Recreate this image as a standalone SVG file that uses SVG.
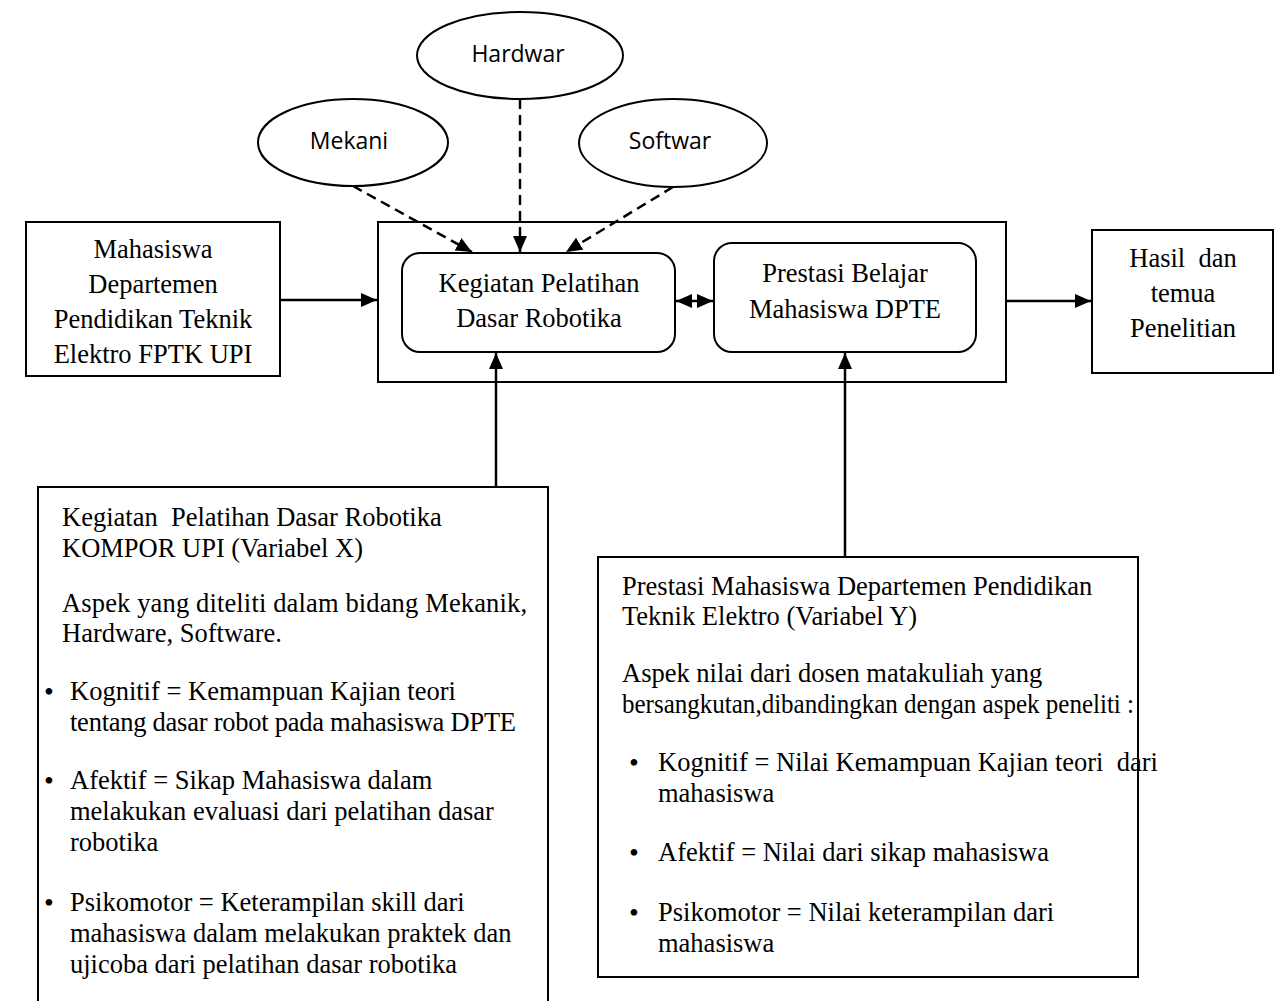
<svg xmlns="http://www.w3.org/2000/svg" width="1275" height="1001" viewBox="0 0 1275 1001">
<defs>
<marker id="ah" viewBox="0 0 16 14" refX="16" refY="7" markerWidth="16" markerHeight="14" markerUnits="userSpaceOnUse" orient="auto-start-reverse">
<path d="M0,0 L16,7 L0,14 Z" fill="#000"/>
</marker>
<style>
.box{fill:#fff;stroke:#000;stroke-width:2}
.ell{fill:#fff;stroke:#000;stroke-width:2}
.t{font-family:"Liberation Serif","Times New Roman",serif;font-size:26.5px;fill:#000}
.c{text-anchor:middle}
.b{font-size:28px}
.s{font-family:"Open Sans","Liberation Sans",sans-serif;font-size:23px;fill:#000;text-anchor:middle}
.ln{stroke:#000;stroke-width:2.5;fill:none}
.dash{stroke:#000;stroke-width:2.5;fill:none;stroke-dasharray:10 6}
</style>
</defs>
<rect width="1275" height="1001" fill="#fff"/>

<g id="frame"><rect class="box" x="378" y="222" width="628" height="160"/></g>

<g id="hardwar"><ellipse class="ell" cx="520" cy="55.5" rx="103" ry="43.5"/><text class="s" x="518" y="62">Hardwar</text></g>
<g id="mekani"><ellipse class="ell" cx="353" cy="142.5" rx="95" ry="43.5"/><text class="s" x="349" y="149">Mekani</text></g>
<g id="softwar"><ellipse class="ell" cx="673" cy="143" rx="94" ry="44"/><text class="s" x="670" y="149">Softwar</text></g>

<g id="mahasiswa"><rect class="box" x="26" y="222" width="254" height="154"/>
<text class="t c" x="153" y="258">Mahasiswa</text>
<text class="t c" x="153" y="293">Departemen</text>
<text class="t c" x="153" y="328">Pendidikan Teknik</text>
<text class="t c" x="153" y="363">Elektro FPTK UPI</text></g>

<g id="kegiatan"><rect class="box" x="402" y="253" width="273" height="99" rx="18"/>
<text class="t c" x="539" y="292">Kegiatan Pelatihan</text>
<text class="t c" x="539" y="327">Dasar Robotika</text></g>

<g id="prestasi"><rect class="box" x="714" y="243" width="262" height="109" rx="18"/>
<text class="t c" x="845" y="282">Prestasi Belajar</text>
<text class="t c" x="845" y="318">Mahasiswa DPTE</text></g>

<g id="hasil"><rect class="box" x="1092" y="230" width="181" height="143"/>
<text class="t c" x="1183" y="267" xml:space="preserve">Hasil  dan</text>
<text class="t c" x="1183" y="302">temua</text>
<text class="t c" x="1183" y="337">Penelitian</text></g>

<g id="varx"><rect class="box" x="38" y="487" width="510" height="530"/>
<text class="t" x="62" y="526" xml:space="preserve">Kegiatan  Pelatihan Dasar Robotika</text>
<text class="t" x="62" y="557">KOMPOR UPI (Variabel X)</text>
<text class="t" x="62" y="612" textLength="465" lengthAdjust="spacing">Aspek yang diteliti dalam bidang Mekanik,</text>
<text class="t" x="62" y="642">Hardware, Software.</text>
<text class="t b" x="44" y="701">•</text>
<text class="t" x="70" y="700">Kognitif = Kemampuan Kajian teori</text>
<text class="t" x="70" y="731" textLength="446" lengthAdjust="spacing">tentang dasar robot pada mahasiswa DPTE</text>
<text class="t b" x="44" y="790">•</text>
<text class="t" x="70" y="789">Afektif = Sikap Mahasiswa dalam</text>
<text class="t" x="70" y="820">melakukan evaluasi dari pelatihan dasar</text>
<text class="t" x="70" y="851">robotika</text>
<text class="t b" x="44" y="912">•</text>
<text class="t" x="70" y="911">Psikomotor = Keterampilan skill dari</text>
<text class="t" x="70" y="942">mahasiswa dalam melakukan praktek dan</text>
<text class="t" x="70" y="973">ujicoba dari pelatihan dasar robotika</text></g>

<g id="vary"><rect class="box" x="598" y="557" width="540" height="420"/>
<text class="t" x="622" y="595">Prestasi Mahasiswa Departemen Pendidikan</text>
<text class="t" x="622" y="625">Teknik Elektro (Variabel Y)</text>
<text class="t" x="622" y="682">Aspek nilai dari dosen matakuliah yang</text>
<text class="t" x="622" y="713" textLength="512" lengthAdjust="spacingAndGlyphs">bersangkutan,dibandingkan dengan aspek peneliti :</text>
<text class="t b" x="629" y="772">•</text>
<text class="t" x="658" y="771" xml:space="preserve">Kognitif = Nilai Kemampuan Kajian teori  dari</text>
<text class="t" x="658" y="802">mahasiswa</text>
<text class="t b" x="629" y="862">•</text>
<text class="t" x="658" y="861">Afektif = Nilai dari sikap mahasiswa</text>
<text class="t b" x="629" y="922">•</text>
<text class="t" x="658" y="921">Psikomotor = Nilai keterampilan dari</text>
<text class="t" x="658" y="952">mahasiswa</text></g>

<g id="connectors">
<line class="dash" x1="353" y1="186" x2="472" y2="252" marker-end="url(#ah)"/>
<line class="dash" x1="520" y1="99" x2="520" y2="252" marker-end="url(#ah)"/>
<line class="dash" x1="673" y1="187" x2="566" y2="252" marker-end="url(#ah)"/>
<line class="ln" x1="280" y1="300" x2="377" y2="300" marker-end="url(#ah)"/>
<line class="ln" x1="1006" y1="301" x2="1091" y2="301" marker-end="url(#ah)"/>
<line class="ln" x1="676" y1="301" x2="713" y2="301" marker-start="url(#ah)" marker-end="url(#ah)"/>
<line class="ln" x1="496" y1="487" x2="496" y2="353" marker-end="url(#ah)"/>
<line class="ln" x1="845" y1="557" x2="845" y2="353" marker-end="url(#ah)"/>
</g>
</svg>
